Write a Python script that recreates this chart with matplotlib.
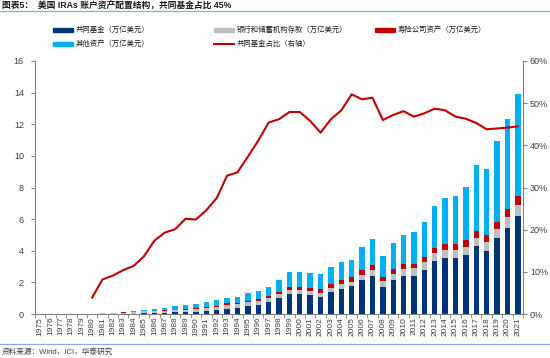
import numpy as np
import matplotlib
matplotlib.use("Agg")
import matplotlib.pyplot as plt
from matplotlib.patches import Rectangle
from matplotlib.lines import Line2D

plt.rcParams['font.family'] = ['Liberation Sans', 'Noto Sans CJK SC', 'DejaVu Sans']

years = [str(y) for y in range(1975, 2022)]

mutual = [0, 0, 0, 0, 0,
          0.001, 0.003, 0.006, 0.014, 0.02, 0.034, 0.06, 0.077, 0.10, 0.12,
          0.14, 0.19, 0.24, 0.33, 0.36, 0.48, 0.60, 0.78, 0.99, 1.26,
          1.27, 1.19, 1.09, 1.38, 1.59, 1.78, 2.15, 2.43, 1.70, 2.12,
          2.41, 2.42, 2.77, 3.33, 3.54, 3.51, 3.71, 4.28, 4.01, 4.83,
          5.45, 6.22]
bank = [0, 0, 0, 0, 0,
        0.02, 0.03, 0.05, 0.08, 0.10, 0.13, 0.14, 0.14, 0.14, 0.14,
        0.16, 0.17, 0.18, 0.26, 0.27, 0.25, 0.23, 0.25, 0.28, 0.26,
        0.25, 0.27, 0.25, 0.28, 0.29, 0.26, 0.32, 0.35, 0.38, 0.41,
        0.45, 0.47, 0.49, 0.52, 0.50, 0.51, 0.55, 0.54, 0.54, 0.55,
        0.71, 0.68]
insurance = [0, 0, 0, 0, 0,
             0.002, 0.003, 0.005, 0.007, 0.009, 0.01, 0.02, 0.03, 0.03, 0.04,
             0.05, 0.06, 0.08, 0.08, 0.09, 0.10, 0.13, 0.13, 0.14, 0.21,
             0.19, 0.21, 0.23, 0.25, 0.27, 0.30, 0.32, 0.30, 0.27, 0.32,
             0.31, 0.29, 0.33, 0.34, 0.36, 0.38, 0.42, 0.44, 0.45, 0.46,
             0.49, 0.57]
other = [0, 0, 0, 0, 0,
         0.002, 0.004, 0.009, 0.029, 0.041, 0.076, 0.12, 0.153, 0.21, 0.25,
         0.28, 0.36, 0.36, 0.34, 0.35, 0.48, 0.51, 0.56, 0.74, 0.93,
         0.93, 0.94, 0.96, 1.08, 1.14, 1.08, 1.43, 1.67, 1.34, 1.64,
         1.85, 1.99, 2.23, 2.65, 2.92, 3.09, 3.34, 4.19, 4.16, 5.13,
         5.69, 6.45]
mf_share = [np.nan, np.nan, np.nan, np.nan, np.nan,
            3.9, 8.2, 9.1, 10.4, 11.4, 13.7, 17.4, 19.3, 20.1, 22.6,
            22.4, 24.6, 27.5, 32.8, 33.6, 37.3, 41.1, 45.4, 46.2, 47.9,
            47.9, 45.8, 43.0, 46.2, 48.3, 52.1, 50.9, 51.3, 46.0, 47.2,
            48.1, 46.8, 47.6, 48.7, 48.3, 46.8, 46.3, 45.3, 43.8, 44.0,
            44.2, 44.5]

c_mf = '#003478'
c_bank = '#BFBFBF'
c_ins = '#C00000'
c_oth = '#00B0F0'
c_line = '#C00000'

W, H = 550, 358
fig = plt.figure(figsize=(W / 100, H / 100), dpi=100)
ax = fig.add_axes([35 / W, 1 - 314 / H, (523 - 35) / W, (314 - 61) / H])
ax2 = ax.twinx()

x = np.arange(len(years))
mutual_a = np.array(mutual)
bank_a = np.array(bank)
ins_a = np.array(insurance)
oth_a = np.array(other)
bw = 0.52
ax.bar(x, mutual_a, bw, color=c_mf, zorder=2)
ax.bar(x, bank_a, bw, bottom=mutual_a, color=c_bank, zorder=2)
ax.bar(x, ins_a, bw, bottom=mutual_a + bank_a, color=c_ins, zorder=2)
ax.bar(x, oth_a, bw, bottom=mutual_a + bank_a + ins_a, color=c_oth, zorder=2)

ax2.plot(x, np.array(mf_share) / 100, color=c_line, lw=1.5, zorder=3)

ax.set_xlim(-0.5, len(years) - 0.5)
ax.set_ylim(0, 16)
ax2.set_ylim(0, 0.6)
ax.set_yticks(range(0, 17, 2))
ax2.set_yticks(np.arange(0, 0.61, 0.1))
ax2.set_yticklabels([f"{int(round(v * 100))}%" for v in np.arange(0, 0.61, 0.1)])

ax.set_xticks(x)
ax.set_xticklabels(years, rotation=90, fontsize=6)
ax.set_xticks(np.arange(-0.5, len(years), 1), minor=True)
ax.tick_params(axis='x', which='major', length=0, pad=2, colors='#404040')
ax.tick_params(axis='x', which='minor', length=3, color='#808080', direction='out')
ax.tick_params(axis='y', length=3, color='#808080', labelsize=6.5, labelcolor='#404040', pad=5)
ax2.tick_params(axis='y', length=3, color='#808080', labelsize=6.5, labelcolor='#404040', pad=2)

for a in (ax, ax2):
    a.spines['top'].set_visible(False)
    for s in ('left', 'right', 'bottom'):
        a.spines[s].set_color('#808080')
        a.spines[s].set_linewidth(0.8)
ax.spines['right'].set_visible(False)
ax2.spines['left'].set_visible(False)
ax2.spines['bottom'].set_visible(False)

ax.set_zorder(ax2.get_zorder() - 1)
ax.patch.set_visible(False)

def fx(px):
    return px / W

def fy(py):
    return 1 - py / H

# title
fig.text(fx(2), fy(6), "图表5：  美国 IRAs 账户资产配置结构，共同基金占比 45%",
         fontsize=6.3, fontweight='bold', va='center', ha='left', color='#1a1a1a')
fig.add_artist(Line2D([0, 1], [fy(11), fy(11)], color='#8EA9DB', lw=0.9))

# legend
leg_fs = 5.3
items = [
    ('patch', c_mf, 53, 30, "共同基金（万亿美元）"),
    ('patch', c_bank, 214, 30, "银行和储蓄机构存款（万亿美元）"),
    ('patch', c_ins, 375, 30, "寿险公司资产（万亿美元）"),
    ('patch', c_oth, 53, 44, "其他资产（万亿美元）"),
    ('line', c_line, 214, 44, "共同基金占比（右轴）"),
]
for kind, col, px, py, label in items:
    if kind == 'patch':
        fig.add_artist(Rectangle((fx(px), fy(py + 2)), 20 / W, 4 / H,
                                 color=col, transform=fig.transFigure))
    else:
        fig.add_artist(Line2D([fx(px), fx(px + 20)], [fy(py), fy(py)],
                              color=col, lw=1.5))
    fig.text(fx(px + 23), fy(py), label, fontsize=leg_fs, va='center',
             ha='left', color='#1a1a1a')

# source
fig.add_artist(Line2D([0, 1], [fy(344), fy(344)], color='#8EA9DB', lw=0.9))
fig.text(fx(2), fy(352), "资料来源：Wind，ICI，华泰研究", fontsize=5.5,
         va='center', ha='left', color='#404040')

fig.savefig("out.png", dpi=100)
